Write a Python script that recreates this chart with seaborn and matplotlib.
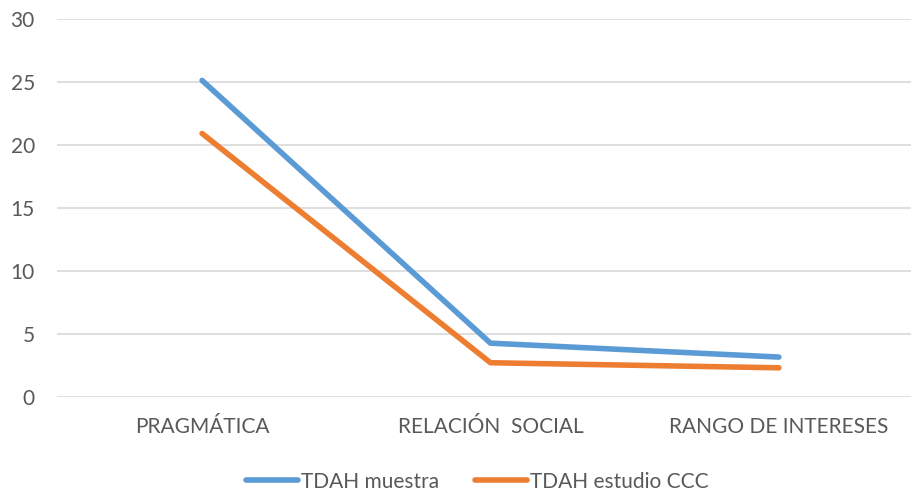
import matplotlib
matplotlib.use("Agg")
import matplotlib.pyplot as plt
import seaborn as sns
import pandas as pd

categories = ["PRAGMÁTICA", "RELACIÓN  SOCIAL", "RANGO DE INTERESES"]
tdah_muestra = [25.1, 4.3, 3.2]
tdah_ccc = [20.9, 2.75, 2.35]
series_names = ["TDAH muestra", "TDAH estudio CCC"]
y_ticks = [0, 5, 10, 15, 20, 25, 30]

df = pd.DataFrame({
    "categoria": categories * 2,
    "valor": tdah_muestra + tdah_ccc,
    "serie": [series_names[0]] * 3 + [series_names[1]] * 3,
})

sns.set_theme(style="white")
plt.rcParams["font.family"] = ["Lato", "DejaVu Sans"]

text_color = "#595959"
palette = {series_names[0]: "#5B9BD5", series_names[1]: "#ED7D31"}

fig = plt.figure(figsize=(9.11, 4.95), dpi=100)
ax = fig.add_axes([57 / 911, 0.197, 1 - 57 / 911, 0.9626 - 0.197])

sns.lineplot(data=df, x="categoria", y="valor", hue="serie", palette=palette,
             sort=False, linewidth=4, ax=ax, legend=True)
for ln in ax.lines:
    ln.set_solid_capstyle("round")
    ln.set_solid_joinstyle("round")

ax.set_xlim(-0.503, 2.458)
ax.set_ylim(0, 30)
ax.set_yticks(y_ticks)
ax.yaxis.grid(True, color="#D9D9D9", linewidth=1.2)
ax.set_axisbelow(True)
for s in ax.spines.values():
    s.set_visible(False)
ax.tick_params(axis="both", length=0, labelsize=15, colors=text_color)
ax.tick_params(axis="y", pad=16)
ax.tick_params(axis="x", pad=14)
ax.set_xlabel("")
ax.set_ylabel("")

leg = ax.legend(loc="center", bbox_to_anchor=(0.492, -0.222), ncol=2, frameon=False,
                fontsize=15, handlelength=2.5, handletextpad=0.15, columnspacing=1.7,
                labelcolor=text_color)
for h in leg.get_lines():
    h.set_linewidth(4)
    h.set_solid_capstyle("round")

fig.savefig("out.png", dpi=100)
